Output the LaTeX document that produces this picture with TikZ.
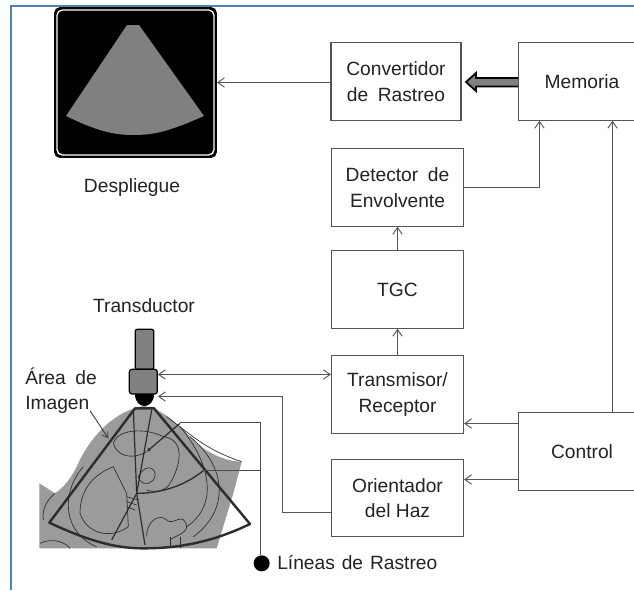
\documentclass[tikz,border=0pt]{standalone}
\usepackage{fontspec}
\setmainfont{Liberation Sans}
\usetikzlibrary{arrows.meta}
\definecolor{frameblue}{RGB}{79,129,189}
\definecolor{edge}{RGB}{85,85,85}
\definecolor{ink}{RGB}{35,35,35}
\definecolor{fan}{RGB}{128,128,128}
\definecolor{tissue}{RGB}{155,155,155}
\definecolor{anat}{RGB}{45,45,45}
\newcommand{\gap}{\hspace{0.5em}}
\tikzset{
  blockbox/.style={draw=edge,line width=0.9pt,fill=white,text=ink,align=center,inner sep=0pt,font=\fontsize{14.4}{19}\selectfont},
  lbl/.style={text=ink,inner sep=0pt,font=\fontsize{14.4}{19}\selectfont},
  conn/.style={draw=edge,line width=0.75pt,-{Straight Barb[length=5pt,width=7pt,line width=0.7pt]}},
  dconn/.style={draw=edge,line width=0.75pt,{Straight Barb[length=5pt,width=7pt,line width=0.7pt]}-{Straight Barb[length=5pt,width=7pt,line width=0.7pt]}},
  anatline/.style={draw=anat,line width=0.5pt},
  fanline/.style={draw=anat,line width=1.8pt},
  scanline/.style={draw=black!70,line width=0.7pt}
}
\begin{document}
\begin{tikzpicture}[x=0.75pt,y=-0.75pt]
\useasboundingbox (0,0) rectangle (634,590);
\clip (0,0) rectangle (634,590);
\fill[white] (0,0) rectangle (634,590);
% frame
\draw[frameblue,line width=1.6pt] (11,590) -- (11,6) -- (640,6);
% display
\node[draw=black,line width=1.2pt,fill=black,rounded corners=4pt,minimum width=121pt,minimum height=112pt,inner sep=0pt] (disp) at (135.5,82.5) {};
\draw[white,line width=1pt,rounded corners=4pt] (57,10) rectangle (214,155);
\fill[fan] (127,25) -- (139,25) -- (204,116) .. controls (170,131) and (155,135) .. (133,135) .. controls (112,135) and (95,130) .. (66,116) -- cycle;
\node[lbl] (dlabel) at (132,188) {Despliegue};
% anatomy
\begin{scope}[shift={(0,280)},x=0.25pt,y=-0.25pt]
\fill[tissue] (118,610) -- (165,640) .. controls (195,620) and (215,590) .. (230,560) .. controls (270,470) and (340,395) .. (430,378) .. controls (490,385) and (540,440) .. (590,490) .. controls (640,530) and (690,545) .. (725,545) -- (700,640) -- (650,805) -- (118,805) -- cycle;
\draw[anatline] (165,640) .. controls (140,660) and (125,690) .. (130,720);
\draw[anatline] (240,700) .. controls (240,620) and (290,580) .. (340,560) -- (380,640) -- (385,740);
\draw[anatline] (240,700) .. controls (260,760) and (330,780) .. (385,740);
\draw[anatline] (340,490) .. controls (350,450) and (430,440) .. (490,470) .. controls (560,480) and (540,560) .. (510,610) .. controls (500,630) and (470,640) .. (440,630);
\draw[anatline] (340,490) .. controls (350,530) and (400,540) .. (440,515);
\draw[anatline] (415,590) .. controls (440,540) and (480,570) .. (460,600) .. controls (440,620) and (420,610) .. (415,590);
\draw[anatline] (380,650) -- (415,660) (380,665) -- (410,675) (380,680) -- (405,690);
\draw[anatline] (440,770) .. controls (440,720) and (480,700) .. (500,720) .. controls (520,740) and (550,690) .. (560,740) .. controls (560,760) and (520,770) .. (510,780);
\draw[anatline] (570,470) .. controls (680,560) and (690,690) .. (580,770);
\draw[anatline] (540,440) .. controls (640,560) and (650,680) .. (560,740);
\draw[anatline] (500,410) .. controls (580,470) and (620,510) .. (725,545);
\draw[anatline] (250,560) .. controls (180,640) and (190,760) .. (290,800);
\draw[anatline] (120,790) .. controls (160,770) and (200,790) .. (210,805);
\draw[anatline] (510,770) -- (510,805) (540,770) -- (540,805);
% fan
\draw[fanline,line join=round] (405,385) -- (148,728) .. controls (280,790) and (360,805) .. (430,805) .. controls (540,805) and (640,785) .. (750,732) -- (462,385) -- cycle;
\draw[anatline,line width=0.9pt] (400,388) -- (410,640) -- (435,795);
\draw[anatline,line width=0.9pt] (455,390) -- (410,640) -- (335,780);
\draw[anatline,line width=1pt] (410,640) .. controls (480,640) and (550,620) .. (610,572);
\draw[anatline,line width=0.9pt,-{Latex[length=3pt,width=3pt]}] (540,430) -- (440,515);
\coordinate (scanA) at (540,428);
\coordinate (scanB) at (610,572);
\coordinate (scanC) at (780,428);
\coordinate (scanD) at (780,572);
\coordinate (areaS) at (270,392);
\coordinate (areaE) at (325,475);
% transducer
\node[draw=black,line width=0.9pt,fill=fan,rounded corners=1.5pt,minimum width=14pt,minimum height=30pt,inner sep=0pt] (handle) at (433.5,208) {};
\fill[black] (405,342) .. controls (405,390) and (462,390) .. (462,342) -- cycle;
\node[draw=black,line width=0.9pt,fill=fan,rounded corners=2pt,minimum width=21pt,minimum height=18.5pt,inner sep=0pt] (head) at (430,305) {};
\node[circle,fill=black,minimum size=12pt,inner sep=0pt] (dot) at (785,850) {};
\end{scope}
% scan line leaders
\draw[scanline] (scanA) -- (scanC) -- (dot.north -| scanC);
\draw[scanline] (scanB) -- (scanD);
\draw[draw=black!75,line width=0.7pt,-{Straight Barb[length=4pt,width=5pt,line width=0.6pt]}] (areaS) -- (areaE);
% labels
\node[lbl] (ltrans) at (144,306) {Transductor};
\node[lbl,anchor=west,align=left] (larea) at (25,390.5) {Área\gap de\\Imagen};
\node[lbl,anchor=west] (llines) at (277,563) {Líneas\hspace{0.36em}de\hspace{0.36em}Rastreo};
% blocks
\node[blockbox,minimum width=97.5pt,minimum height=58pt] (conv) at (396,81.5) {Convertidor\\de\gap Rastreo};
\node[blockbox,minimum width=95pt,minimum height=58pt] (mem) at (582,81.5) {Memoria};
\node[blockbox,minimum width=99pt,minimum height=58pt] (det) at (397.5,187.5) {Detector\gap de\\Envolvente};
\node[blockbox,minimum width=99pt,minimum height=58pt] (tgc) at (397.5,289.5) {TGC};
\node[blockbox,minimum width=99pt,minimum height=58pt] (tx) at (397.5,394.5) {Transmisor/\\Receptor};
\node[blockbox,minimum width=99pt,minimum height=58pt] (ori) at (397.5,498) {Orientador\\del Haz};
\node[blockbox,minimum width=95pt,minimum height=58pt] (ctrl) at (582,451.5) {Control};
% connectors
\coordinate (lensR) at (158,396.5);
\coordinate (oriBend) at (282.5,512.5);
\coordinate (detBend) at (539.5,187.5);
\draw[conn] (conv.west |- 0,82.5) -- (disp.east);
\draw[conn] (tgc.north) -- (det.south);
\draw[conn] (tx.north) -- (tgc.south);
\draw[dconn] (tx.west |- 0,374.5) -- (head.east |- 0,374.5);
\draw[conn] (det.east) -- (detBend) -- (detBend |- mem.south);
\draw[conn] (ctrl.north -| 612.5,0) -- (mem.south -| 612.5,0);
\draw[conn] (ctrl.west |- 0,423.5) -- (tx.east |- 0,423.5);
\draw[conn] (ctrl.west |- 0,479.5) -- (ori.east |- 0,479.5);
\draw[conn] (ori.west |- oriBend) -- (oriBend) -- (oriBend |- lensR) -- (lensR);
% thick arrow memoria -> convertidor
\draw[black,line width=1.3pt,fill=fan,line join=miter] (mem.west |- 0,78) -- (476,78) -- (476,73) -- (466,82) -- (476,91) -- (476,86.5) -- (mem.west |- 0,86.5);
\end{tikzpicture}
\end{document}
